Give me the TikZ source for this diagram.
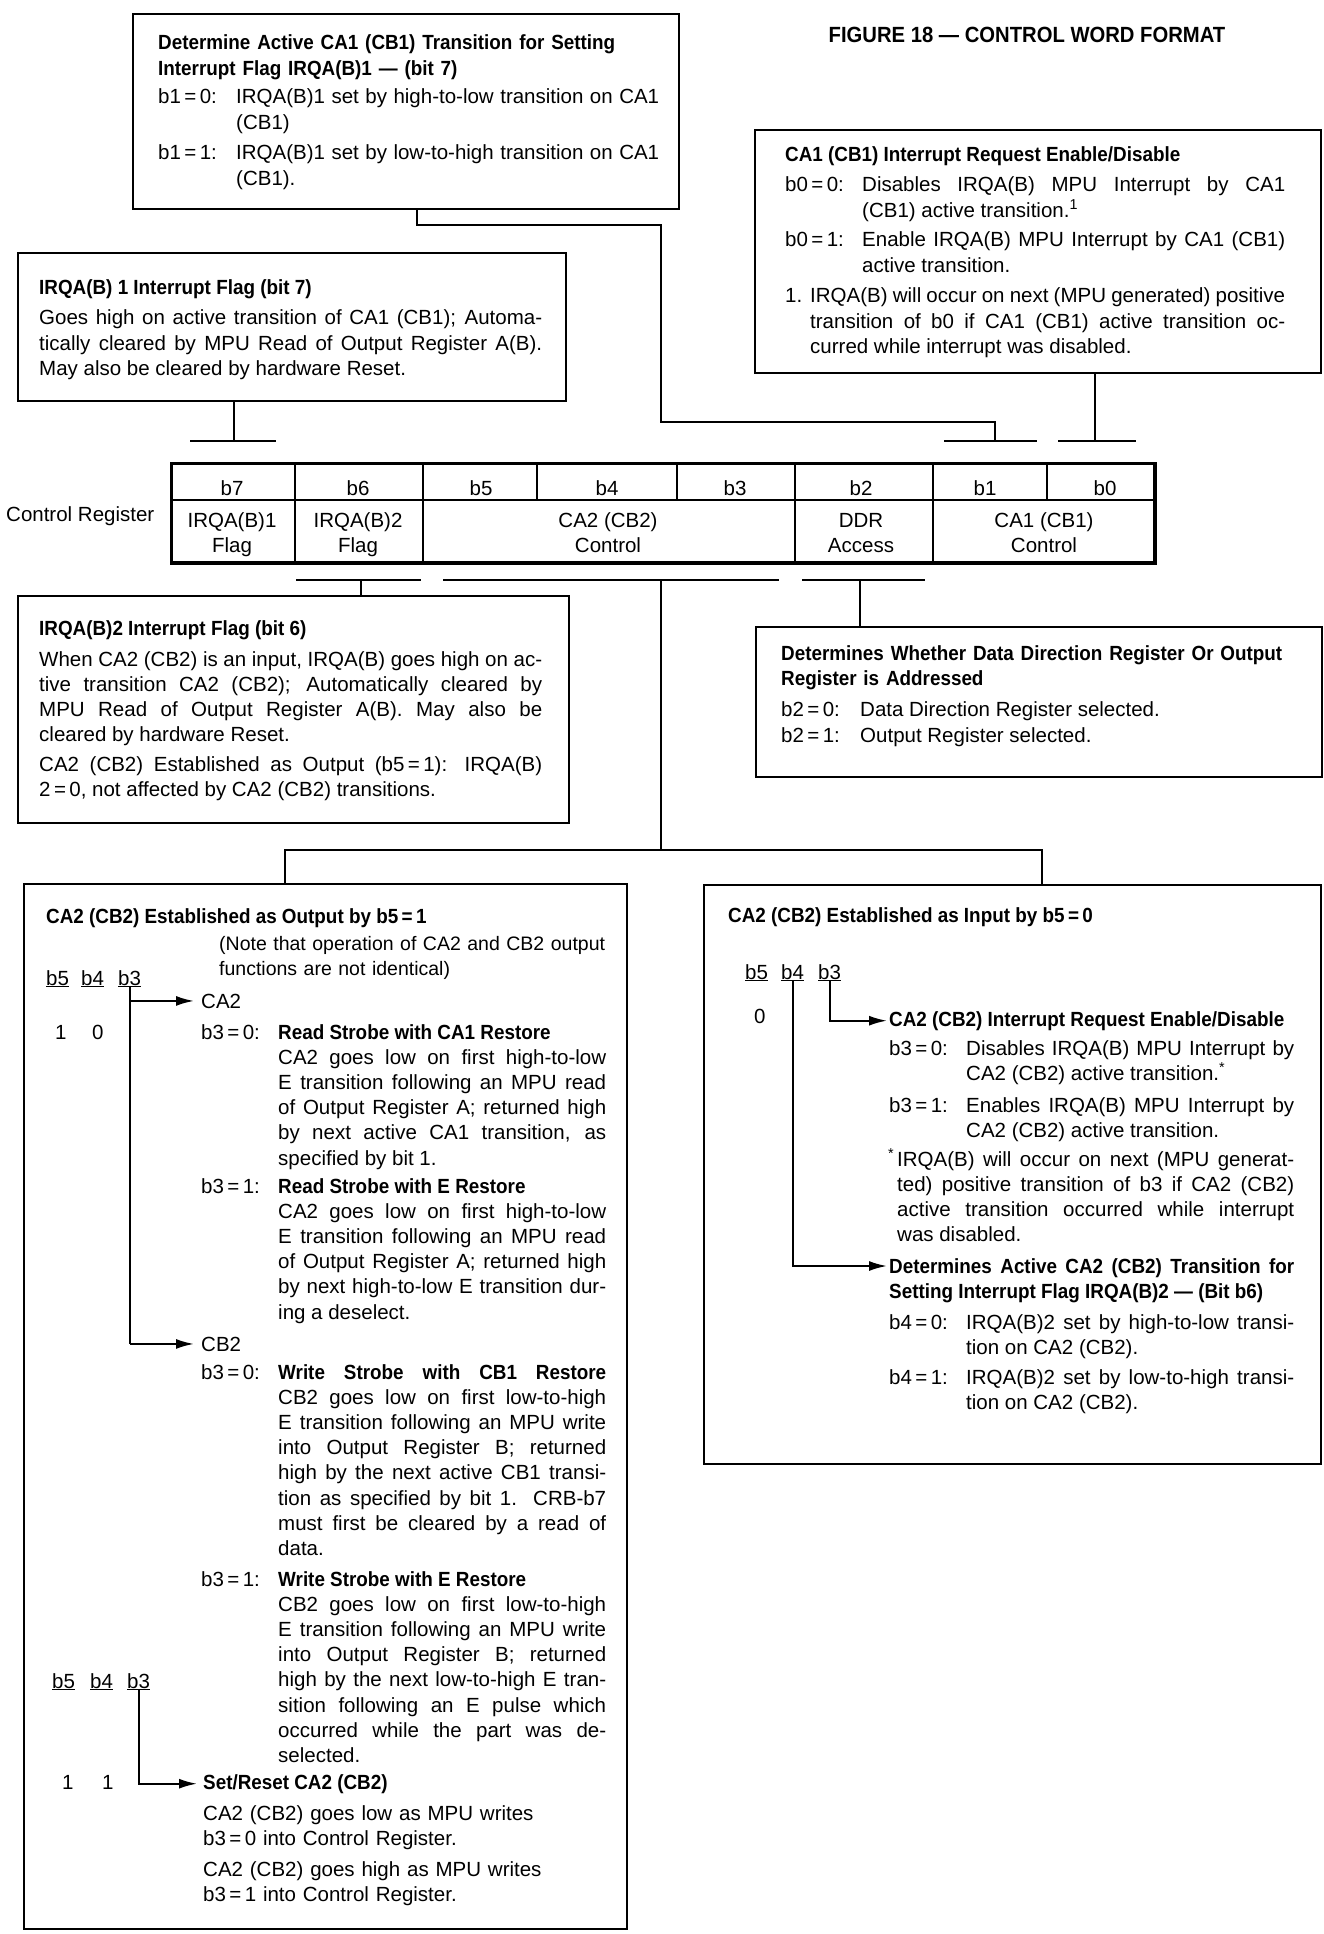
\documentclass[tikz,border=0pt]{standalone}
\usepackage{fontspec}
\setmainfont{Liberation Sans}[BoldFeatures={FakeStretch=0.92}]
\usetikzlibrary{arrows.meta}
\newcommand\myfs{\fontsize{20.5}{25.2}\selectfont}
\newcommand\Eq{\,=\,}
\tolerance=10000 \hbadness=10000 \hfuzz=60pt \hyphenpenalty=10000 \exhyphenpenalty=10000
\begin{document}
\begin{tikzpicture}[x=1pt,y=-1pt,
  box/.style={draw, line width=2.2pt, rectangle, inner sep=0pt, anchor=north west},
  cell/.style={draw, line width=2pt, rectangle, inner sep=0pt, anchor=north west},
  txt/.style={anchor=base west, inner sep=0pt, font=\myfs, align=justify},
  lbl/.style={anchor=base west, inner sep=0pt, font=\myfs},
  hd/.style={anchor=base west, inner sep=0pt, font=\myfs\bfseries},
  clbl/.style={anchor=base, inner sep=0pt, font=\myfs},
  conn/.style={line width=2pt},
  tbar/.style={line width=2.8pt},
  arr/.style={line width=2pt, -{Latex[length=18pt,width=10pt]}}]
\useasboundingbox[fill=white] (0,0) rectangle (1324,1934);

% title
\node[clbl, font=\fontsize{22}{26}\selectfont\bfseries] (title) at (1027,43) {FIGURE 18 — CONTROL WORD FORMAT};

% ---------- Box A
\node[box, minimum width=546pt, minimum height=195pt] (boxA) at (132,13) {};
\node[hd, text width=501pt, align=left] (aH) at (158,50) {Determine Active CA1 (CB1) Transition for Setting\\Interrupt Flag IRQA(B)1 — (bit 7)};
\node[lbl] (aL1) at (158,104) {b1\Eq 0:};
\node[txt, text width=423pt] (aT1) at (236,104) {IRQA(B)1 set by high-to-low transition on CA1\linebreak (CB1)};
\node[lbl] (aL2) at (158,160) {b1\Eq 1:};
\node[txt, text width=423pt] (aT2) at (236,160) {IRQA(B)1 set by low-to-high transition on CA1\linebreak (CB1).};

% ---------- Box B
\node[box, minimum width=548pt, minimum height=148pt] (boxB) at (17,252) {};
\node[hd] (bH) at (39,295) {IRQA(B) 1 Interrupt Flag (bit 7)};
\node[txt, text width=503pt] (bT) at (39,325) {Goes high on active transition of CA1 (CB1); Automa-\linebreak tically cleared by MPU Read of Output Register A(B).\linebreak May also be cleared by hardware Reset.};

% ---------- Box C
\node[box, minimum width=566pt, minimum height=243pt] (boxC) at (754,129) {};
\node[hd] (cH) at (785,162) {CA1 (CB1) Interrupt Request Enable/Disable};
\node[lbl] (cL1) at (785,192) {b0\Eq 0:};
\node[txt, text width=423pt] (cT1) at (862,192) {Disables IRQA(B) MPU Interrupt by CA1\linebreak (CB1) active transition.\textsuperscript{1}};
\node[lbl] (cL2) at (785,247) {b0\Eq 1:};
\node[txt, text width=423pt] (cT2) at (862,247) {Enable IRQA(B) MPU Interrupt by CA1 (CB1)\linebreak active transition.};
\node[lbl] (cL3) at (785,303) {1.};
\node[txt, text width=475pt] (cT3) at (810,303) {IRQA(B) will occur on next (MPU generated) positive\linebreak transition of b0 if CA1 (CB1) active transition oc-\linebreak curred while interrupt was disabled.};

% ---------- Register
\node[lbl] (creg) at (6,521) {Control Register};
\node[cell, minimum width=123pt, minimum height=36pt] (hb7) at (171,463) {};
\node[cell, minimum width=128pt, minimum height=36pt] (hb6) at (294,463) {};
\node[cell, minimum width=114pt, minimum height=36pt] (hb5) at (422,463) {};
\node[cell, minimum width=140pt, minimum height=36pt] (hb4) at (536,463) {};
\node[cell, minimum width=118pt, minimum height=36pt] (hb3) at (676,463) {};
\node[cell, minimum width=138pt, minimum height=36pt] (hb2) at (794,463) {};
\node[cell, minimum width=114pt, minimum height=36pt] (hb1) at (932,463) {};
\node[cell, minimum width=107pt, minimum height=36pt] (hb0) at (1046,463) {};
\node[cell, minimum width=123pt, minimum height=62pt] (rb7) at (171,499) {};
\node[cell, minimum width=128pt, minimum height=62pt] (rb6) at (294,499) {};
\node[cell, minimum width=372pt, minimum height=62pt] (rca2) at (422,499) {};
\node[cell, minimum width=138pt, minimum height=62pt] (rddr) at (794,499) {};
\node[cell, minimum width=221pt, minimum height=62pt] (rca1) at (932,499) {};
\draw[line width=3pt] (hb7.north west) rectangle (rca1.south east);
\node[clbl] (lb7) at (232,495) {b7};
\node[clbl] (lb6) at (358,495) {b6};
\node[clbl] (lb5) at (481,495) {b5};
\node[clbl] (lb4) at (607,495) {b4};
\node[clbl] (lb3) at (735,495) {b3};
\node[clbl] (lb2) at (861,495) {b2};
\node[clbl] (lb1) at (985,495) {b1};
\node[clbl] (lb0) at (1105,495) {b0};
\node[clbl] (r7a) at (232,527) {IRQA(B)1};
\node[clbl] (r7b) at (232,552) {Flag};
\node[clbl] (r6a) at (358,527) {IRQA(B)2};
\node[clbl] (r6b) at (358,552) {Flag};
\node[clbl] (rca) at (608,527) {CA2 (CB2)};
\node[clbl] (rcb) at (608,552) {Control};
\node[clbl] (rda) at (861,527) {DDR};
\node[clbl] (rdb) at (861,552) {Access};
\node[clbl] (r1a) at (1044,527) {CA1 (CB1)};
\node[clbl] (r1b) at (1044,552) {Control};

% T-bars above
\coordinate (tb7l) at (190,441); \coordinate (tb7r) at (276,441); \coordinate (tb7) at (234,441);
\coordinate (tb1l) at (944,441); \coordinate (tb1r) at (1037,441); \coordinate (tb1) at (995,441);
\coordinate (tb0l) at (1058,441); \coordinate (tb0r) at (1136,441); \coordinate (tb0) at (1095,441);
\draw[tbar] (tb7l) -- (tb7r);
\draw[tbar] (tb1l) -- (tb1r);
\draw[tbar] (tb0l) -- (tb0r);
\draw[conn] (234,0 |- boxB.south) -- (tb7);
\draw[conn] (417,0 |- boxA.south) -- (417,225) -- (661,225) -- (661,422) -- (995,422) -- (tb1);
\draw[conn] (1095,0 |- boxC.south) -- (tb0);

% T-bars below
\coordinate (tb6l) at (296,580); \coordinate (tb6r) at (421,580); \coordinate (tb6) at (361,580);
\coordinate (tbcl) at (443,580); \coordinate (tbcr) at (779,580); \coordinate (tbc) at (661,580);
\coordinate (tb2l) at (802,580); \coordinate (tb2r) at (925,580); \coordinate (tb2) at (860,580);
\coordinate (split) at (661,850);
\draw[tbar] (tb6l) -- (tb6r);
\draw[tbar] (tbcl) -- (tbcr);
\draw[tbar] (tb2l) -- (tb2r);

% ---------- Box D
\node[box, minimum width=551pt, minimum height=227pt] (boxD) at (17,595) {};
\node[hd] (dH) at (39,635) {IRQA(B)2 Interrupt Flag (bit 6)};
\node[txt, text width=503pt] (dT1) at (39,666) {When CA2 (CB2) is an input, IRQA(B) goes high on ac-\linebreak tive transition CA2 (CB2); Automatically cleared by\linebreak MPU Read of Output Register A(B). May also be\linebreak cleared by hardware Reset.};
\node[txt, text width=503pt] (dT2) at (39,771) {CA2 (CB2) Established as Output (b5\Eq 1): IRQA(B)\linebreak 2\Eq 0, not affected by CA2 (CB2) transitions.};

% ---------- Box E
\node[box, minimum width=566pt, minimum height=150pt] (boxE) at (755,626) {};
\node[hd, text width=520pt, align=left] (eH) at (781,660) {Determines Whether Data Direction Register Or Output\\Register is Addressed};
\node[lbl] (eL1) at (781,716) {b2\Eq 0:};
\node[lbl] (eT1) at (860,716) {Data Direction Register selected.};
\node[lbl] (eL2) at (781,742) {b2\Eq 1:};
\node[lbl] (eT2) at (860,742) {Output Register selected.};

% ---------- Box F
\node[box, minimum width=603pt, minimum height=1045pt] (boxF) at (23,883) {};
\node[hd] (fH) at (46,923) {CA2 (CB2) Established as Output by b5\Eq 1};
\node[txt, text width=440pt, align=left, font=\fontsize{19.5}{25.2}\selectfont] (fN) at (219,950) {(Note that operation of CA2 and CB2 output\\functions are not identical)};
\node[lbl] (fb5) at (46,985) {\underline{b5}};
\node[lbl] (fb4) at (81,985) {\underline{b4}};
\node[lbl] (fb3) at (118,985) {\underline{b3}};
\node[lbl] (f1) at (55,1039) {1};
\node[lbl] (f0) at (92,1039) {0};
\node[lbl] (fCA2) at (201,1008) {CA2};
\node[lbl] (fL1) at (201,1039) {b3\Eq 0:};
\node[txt, text width=328pt] (fT1) at (278,1039) {\textbf{Read Strobe with CA1 Restore}\\ CA2 goes low on first high-to-low\linebreak E transition following an MPU read\linebreak of Output Register A; returned high\linebreak by next active CA1 transition, as\linebreak specified by bit 1.};
\node[lbl] (fL2) at (201,1193) {b3\Eq 1:};
\node[txt, text width=328pt] (fT2) at (278,1193) {\textbf{Read Strobe with E Restore}\\ CA2 goes low on first high-to-low\linebreak E transition following an MPU read\linebreak of Output Register A; returned high\linebreak by next high-to-low E transition dur-\linebreak ing a deselect.};
\node[lbl] (fCB2) at (201,1351) {CB2};
\node[lbl] (fL3) at (201,1379) {b3\Eq 0:};
\node[txt, text width=328pt] (fT3) at (278,1379) {\textbf{Write Strobe with CB1 Restore}\linebreak CB2 goes low on first low-to-high\linebreak E transition following an MPU write\linebreak into Output Register B; returned\linebreak high by the next active CB1 transi-\linebreak tion as specified by bit 1. CRB-b7\linebreak must first be cleared by a read of\linebreak data.};
\node[lbl] (fL4) at (201,1586) {b3\Eq 1:};
\node[txt, text width=328pt] (fT4) at (278,1586) {\textbf{Write Strobe with E Restore}\\ CB2 goes low on first low-to-high\linebreak E transition following an MPU write\linebreak into Output Register B; returned\linebreak high by the next low-to-high E tran-\linebreak sition following an E pulse which\linebreak occurred while the part was de-\linebreak selected.};
\draw[conn] (fb3.south) -- (fb3.south |- fCB2.west);
\draw[arr, shorten >=7pt] (fb3.south |- fCA2.west) -- (fCA2.west);
\draw[arr, shorten >=7pt] (fb3.south |- fCB2.west) -- (fCB2.west);

\node[lbl] (fb5b) at (52,1688) {\underline{b5}};
\node[lbl] (fb4b) at (90,1688) {\underline{b4}};
\node[lbl] (fb3b) at (127,1688) {\underline{b3}};
\node[lbl] (f1b) at (62,1789) {1};
\node[lbl] (f1c) at (102,1789) {1};
\node[hd] (fSR) at (203,1789) {Set/Reset CA2 (CB2)};
\node[txt, text width=400pt, align=left] (fS1) at (203,1820) {CA2 (CB2) goes low as MPU writes\\b3\Eq 0 into Control Register.};
\node[txt, text width=400pt, align=left] (fS2) at (203,1876) {CA2 (CB2) goes high as MPU writes\\b3\Eq 1 into Control Register.};
\draw[arr, shorten >=6pt] (fb3b.south) |- (fSR.west);

% ---------- Box G
\node[box, minimum width=617pt, minimum height=579pt] (boxG) at (703,884) {};
\node[hd] (gH) at (728,922) {CA2 (CB2) Established as Input by b5\Eq 0};
\node[lbl] (gb5) at (745,979) {\underline{b5}};
\node[lbl] (gb4) at (781,979) {\underline{b4}};
\node[lbl] (gb3) at (818,979) {\underline{b3}};
\node[lbl] (g0) at (754,1023) {0};
\node[hd] (gH1) at (889,1026) {CA2 (CB2) Interrupt Request Enable/Disable};
\draw[arr, shorten >=2pt] (gb3.south) |- (gH1.west);
\node[lbl] (gL1) at (889,1055) {b3\Eq 0:};
\node[txt, text width=328pt] (gT1) at (966,1055) {Disables IRQA(B) MPU Interrupt by\linebreak CA2 (CB2) active transition.\textsuperscript{*}};
\node[lbl] (gL2) at (889,1112) {b3\Eq 1:};
\node[txt, text width=328pt] (gT2) at (966,1112) {Enables IRQA(B) MPU Interrupt by\linebreak CA2 (CB2) active transition.};
\node[lbl] (gStar) at (888,1166) {\textsuperscript{*}};
\node[txt, text width=397pt] (gFn) at (897,1166) {IRQA(B) will occur on next (MPU generat-\linebreak ted) positive transition of b3 if CA2 (CB2)\linebreak active transition occurred while interrupt\linebreak was disabled.};
\coordinate (gA2) at (887,1266);
\node[hd, text width=405pt, align=justify] (gH2) at (889,1273) {Determines Active CA2 (CB2) Transition for\linebreak Setting Interrupt Flag IRQA(B)2 — (Bit b6)};
\draw[arr] (gb4.south) |- (gA2);
\node[lbl] (gL3) at (889,1329) {b4\Eq 0:};
\node[txt, text width=328pt] (gT3) at (966,1329) {IRQA(B)2 set by high-to-low transi-\linebreak tion on CA2 (CB2).};
\node[lbl] (gL4) at (889,1384) {b4\Eq 1:};
\node[txt, text width=328pt] (gT4) at (966,1384) {IRQA(B)2 set by low-to-high transi-\linebreak tion on CA2 (CB2).};

% connectors below register
\draw[conn] (tb6) -- (361,0 |- boxD.north);
\draw[conn] (tb2) -- (860,0 |- boxE.north);
\draw[conn] (tbc) -- (split);
\draw[conn] (285,0 |- boxF.north) |- (split) -| (1042,0 |- boxG.north);
\end{tikzpicture}
\end{document}
